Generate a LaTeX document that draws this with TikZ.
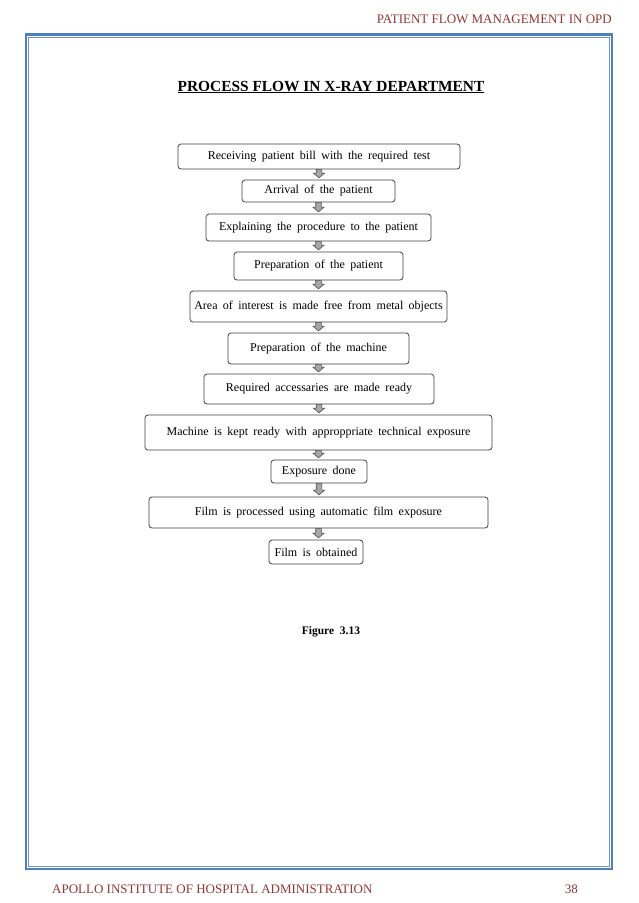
\documentclass[tikz,border=0pt]{standalone}
\usepackage{fontspec}
\setmainfont{Liberation Serif}
\usetikzlibrary{calc}
\definecolor{hdr}{HTML}{943634}
\definecolor{brd}{HTML}{4F81BD}
\definecolor{brdin}{HTML}{6F97C8}
\definecolor{boxline}{HTML}{404040}
\definecolor{arrfill}{HTML}{A6A6A6}
\definecolor{arrline}{HTML}{505050}
\newcommand\mystepfont{\fontsize{12}{14}\selectfont\spaceskip 0.45em plus 0.1em minus 0.05em\relax}
\tikzset{
  stepbox/.style={draw=boxline, line width=0.8pt, rounded corners=3pt, fill=white,
    inner sep=0pt, font=\mystepfont},
  pagetext/.style={inner sep=0pt, text=hdr, font=\fontsize{13}{15}\selectfont},
  blockarr/.style={draw=arrline, fill=arrfill, line width=0.6pt, line join=miter}
}
\newcommand\myblockarrow[2]{%
  \draw[blockarr] let \p1=(#1.south), \p2=(#2.north) in
    (\x1-2.8pt,\y1) -- (\x1+2.8pt,\y1) -- (\x1+2.8pt,\y2+6.5pt) -- (\x1+5.7pt,\y2+6.5pt)
    -- (\x1,\y2+1.8pt) -- (\x1-5.7pt,\y2+6.5pt) -- (\x1-2.8pt,\y2+6.5pt) -- cycle;}
\begin{document}
\begin{tikzpicture}[x=1pt,y=-1pt]
\useasboundingbox (0,0) rectangle (638,903);
\fill[white] (0,0) rectangle (638,903);
% page border
\draw[brd, line width=2.6pt] (26,34.3) rectangle (612,869);
\draw[brdin, line width=0.9pt] (28.9,37) rectangle (609.1,866.4);
% header and footer
\node[pagetext, anchor=base east] (hdr) at (612,23) {PATIENT FLOW MANAGEMENT IN OPD};
\node[pagetext, anchor=base west] (ftr) at (52,893) {APOLLO INSTITUTE OF HOSPITAL ADMINISTRATION};
\node[pagetext, anchor=base east] (pg) at (578,893) {38};
% title
\node[inner sep=0pt, anchor=base, font=\fontsize{15.4}{18}\selectfont\bfseries] (title) at (331,91)
  {\underline{PROCESS FLOW IN X-RAY DEPARTMENT}};
% steps
\node[stepbox, minimum width=282pt, minimum height=25pt] (b1) at (319,156.5) {Receiving patient bill with the required test};
\node[stepbox, minimum width=153pt, minimum height=22pt] (b2) at (318.5,191) {Arrival of the patient};
\node[stepbox, minimum width=225pt, minimum height=27pt] (b3) at (318.5,227.5) {Explaining the procedure to the patient};
\node[stepbox, minimum width=169pt, minimum height=28pt] (b4) at (318.5,266) {Preparation of the patient};
\node[stepbox, minimum width=257pt, minimum height=31pt] (b5) at (318.5,306.5) {Area of interest is made free from metal objects};
\node[stepbox, minimum width=181pt, minimum height=31pt] (b6) at (318.5,348.5) {Preparation of the machine};
\node[stepbox, minimum width=230pt, minimum height=30pt] (b7) at (319,389) {Required accessaries are made ready};
\node[stepbox, minimum width=347pt, minimum height=35pt] (b8) at (318.5,432.5) {Machine is kept ready with approppriate technical exposure};
\node[stepbox, minimum width=96pt, minimum height=23pt] (b9) at (319,471.5) {Exposure done};
\node[stepbox, minimum width=339pt, minimum height=31pt] (b10) at (318.5,512.5) {Film is processed using automatic film exposure};
\node[stepbox, minimum width=94pt, minimum height=24pt] (b11) at (316,552) {Film is obtained};
% arrows
\myblockarrow{b1}{b2}
\myblockarrow{b2}{b3}
\myblockarrow{b3}{b4}
\myblockarrow{b4}{b5}
\myblockarrow{b5}{b6}
\myblockarrow{b6}{b7}
\myblockarrow{b7}{b8}
\myblockarrow{b8}{b9}
\myblockarrow{b9}{b10}
\myblockarrow{b10}{b11}
% caption
\node[inner sep=0pt, anchor=base, font=\fontsize{11.5}{13}\selectfont\bfseries] (fig) at (331,634) {Figure\hspace{0.5em}3.13};
\end{tikzpicture}
\end{document}
